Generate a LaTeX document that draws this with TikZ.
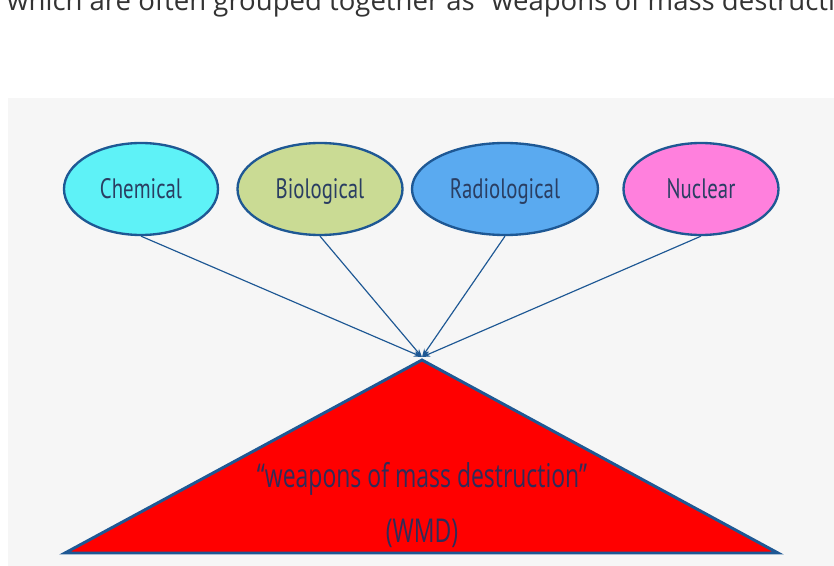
\documentclass[tikz,border=0pt]{standalone}
\usepackage{fontspec}
\setmainfont{Open Sans}
\newfontfamily\ovalfont[FakeStretch=0.74]{PT Sans}
\newfontfamily\wmdfont[FakeStretch=0.70]{Open Sans}
\usepackage{xcolor}
\usetikzlibrary{arrows.meta,shapes.geometric}

\definecolor{edgeblue}{RGB}{30,88,148}
\definecolor{labelblue}{RGB}{42,62,98}
\definecolor{wmdtext}{RGB}{48,44,88}
\definecolor{bggray}{RGB}{246,246,246}
\definecolor{chemfill}{RGB}{94,242,247}
\definecolor{biofill}{RGB}{202,219,148}
\definecolor{radfill}{RGB}{90,170,240}
\definecolor{nucfill}{RGB}{255,128,221}

\begin{document}
\begin{tikzpicture}[
  x=0.03cm, y=-0.03cm,
  agent/.style={ellipse, draw=edgeblue, line width=2pt, minimum height=2.76cm, inner sep=0pt, text height=17pt, text depth=0pt, text=labelblue, font=\ovalfont\fontsize{24}{26}\selectfont},
  feed/.style={-{Stealth[length=7pt,width=5pt]}, draw=edgeblue, line width=1pt},
  wmdlabel/.style={text=wmdtext, inner sep=0pt, font=\wmdfont\fontsize{28}{30}\selectfont}
]
\useasboundingbox (0,0) rectangle (834,566);
\clip (0,0) rectangle (834,566);

% slide line above the figure
\node[anchor=base west, inner sep=0pt, text=black!80, font=\fontsize{23.5}{28}\selectfont] (intro) at (7,11)
  {which are often grouped together as “weapons of mass destruction”};

\fill[bggray] (8,98) rectangle (834,566);

% the four agents
\node[agent, fill=chemfill, minimum width=4.62cm] (chem) at (141,189) {Chemical};
\node[agent, fill=biofill, minimum width=4.95cm] (bio) at (320,189) {Biological};
\node[agent, fill=radfill, minimum width=5.58cm] (rad) at (505,189) {Radiological};
\node[agent, fill=nucfill, minimum width=4.65cm] (nuc) at (701,189) {Nuclear};

% triangle
\coordinate (apex) at (422,360);
\coordinate (baseL) at (65,553);
\coordinate (baseR) at (778,553);
\coordinate (hub) at (422,357);
\filldraw[fill=red, draw=edgeblue, line width=2.5pt] (apex) -- (baseR) -- (baseL) -- cycle;

\node[wmdlabel] (wmdname) at (422,479) {“weapons of mass destruction”};
\node[wmdlabel] (wmdabbr) at (422,533) {(WMD)};

\draw[feed] (chem.south) -- (hub);
\draw[feed] (bio.south) -- (hub);
\draw[feed] (rad.south) -- (hub);
\draw[feed] (nuc.south) -- (hub);
\end{tikzpicture}
\end{document}
